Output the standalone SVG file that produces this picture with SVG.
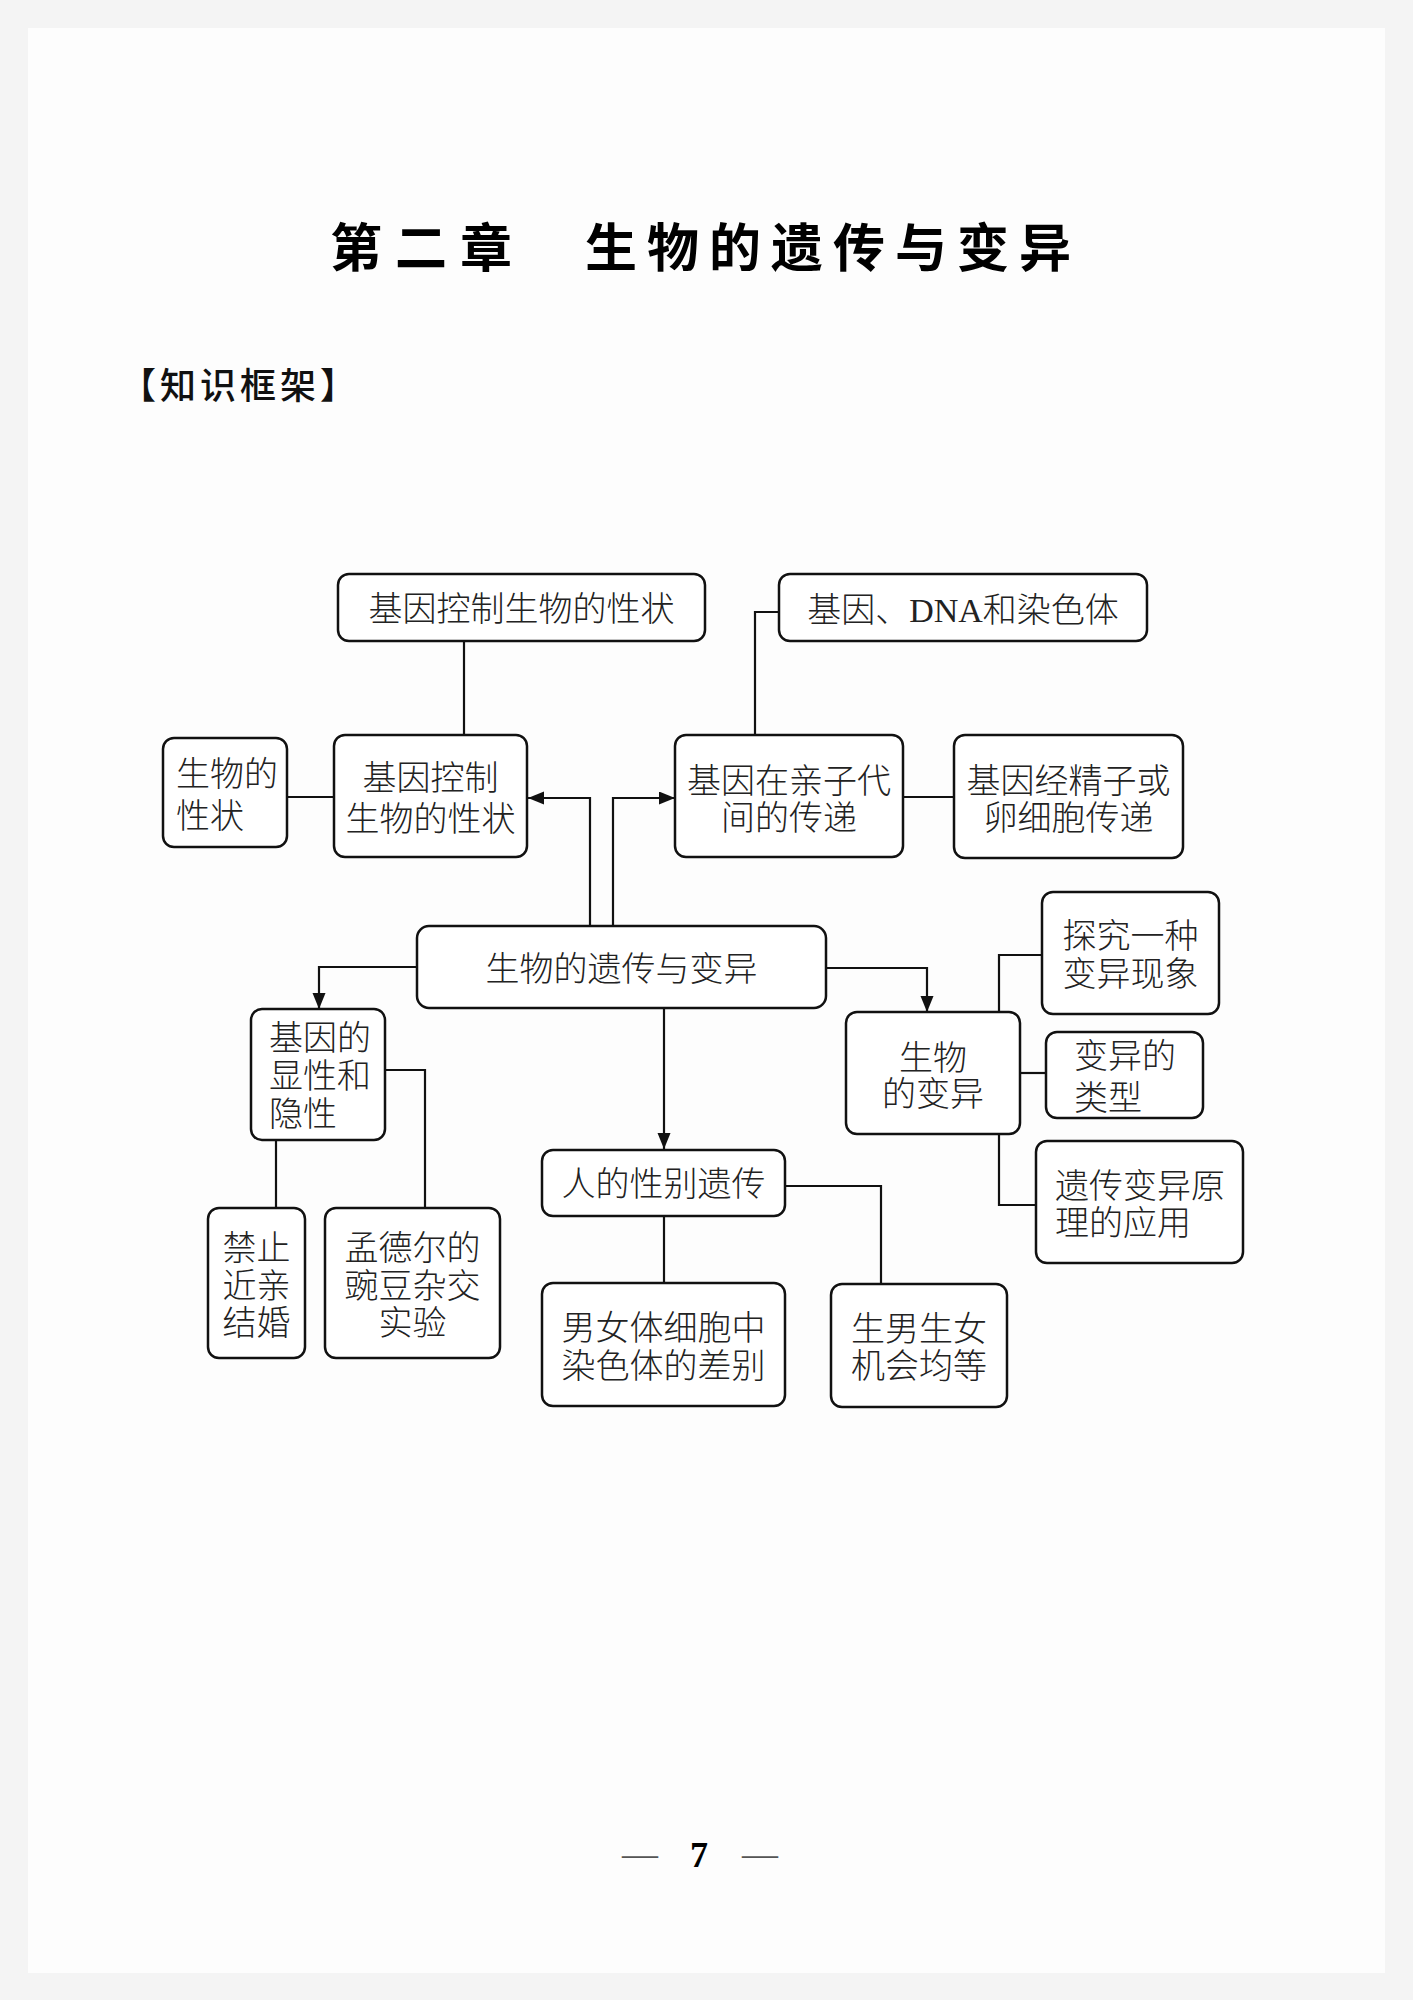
<svg xmlns="http://www.w3.org/2000/svg" width="1413" height="2000" viewBox="0 0 1413 2000">
<style>
.box{fill:#fff;stroke:#111;stroke-width:2.5}
.t{font-family:"Liberation Serif","Noto Sans CJK SC",serif;font-size:34px;font-weight:300;fill:#222}
.c{text-anchor:middle}
.ln{fill:none;stroke:#111;stroke-width:2.2}
.title{font-family:"Noto Sans CJK SC",sans-serif;font-weight:bold;font-size:52px;fill:#000}
</style>
<defs>
<marker id="arr" markerUnits="userSpaceOnUse" markerWidth="18" markerHeight="14" refX="16" refY="6.5" orient="auto">
<path d="M0,0 L16,6.5 L0,13 z" fill="#111"/>
</marker>
</defs>
<rect x="0" y="0" width="1413" height="2000" fill="#f4f4f4"/>
<rect x="28" y="28" width="1357" height="1945" fill="#fdfdfd"/>

<g id="title">
<text class="title" x="330" y="267" letter-spacing="13">第二章</text>
<text class="title" x="585" y="267" letter-spacing="10">生物的遗传与变异</text>
</g>
<g id="section">
<text x="120" y="399" font-family="Noto Sans CJK SC, sans-serif" font-size="36" font-weight="500" letter-spacing="4" fill="#111">【知识框架】</text>
</g>

<g id="connectors">
<line class="ln" x1="464" y1="641" x2="464" y2="735"/>
<line class="ln" x1="287" y1="797" x2="334" y2="797"/>
<path class="ln" d="M590,926 V798 H528" marker-end="url(#arr)"/>
<path class="ln" d="M613,926 V798 H675" marker-end="url(#arr)"/>
<path class="ln" d="M755,735 V612 H779"/>
<line class="ln" x1="903" y1="797" x2="954" y2="797"/>
<path class="ln" d="M417,967 H319 V1009" marker-end="url(#arr)"/>
<path class="ln" d="M826,968 H927 V1012" marker-end="url(#arr)"/>
<path class="ln" d="M664,1008 V1149" marker-end="url(#arr)"/>
<line class="ln" x1="276" y1="1140" x2="276" y2="1208"/>
<path class="ln" d="M385,1070 H425 V1208"/>
<path class="ln" d="M999,1012 V955 H1042"/>
<line class="ln" x1="1020" y1="1073" x2="1046" y2="1073"/>
<path class="ln" d="M999,1134 V1205 H1036"/>
<line class="ln" x1="664" y1="1216" x2="664" y2="1283"/>
<path class="ln" d="M785,1186 H881 V1284"/>
</g>

<g id="nodeA">
<rect class="box" x="338" y="574" width="367" height="67" rx="11"/>
<text class="t c" x="521.5" y="621">基因控制生物的性状</text>
</g>
<g id="nodeB">
<rect class="box" x="779" y="574" width="368" height="67" rx="11"/>
<text class="t c" x="963" y="622">基因、DNA和染色体</text>
</g>
<g id="nodeC">
<rect class="box" x="163" y="738" width="124" height="109" rx="11"/>
<text class="t" x="176" y="786">生物的</text>
<text class="t" x="176" y="828">性状</text>
</g>
<g id="nodeD">
<rect class="box" x="334" y="735" width="193" height="122" rx="11"/>
<text class="t c" x="430.5" y="790">基因控制</text>
<text class="t c" x="430.5" y="831">生物的性状</text>
</g>
<g id="nodeE">
<rect class="box" x="675" y="735" width="228" height="122" rx="11"/>
<text class="t c" x="789" y="793">基因在亲子代</text>
<text class="t c" x="789" y="830">间的传递</text>
</g>
<g id="nodeF">
<rect class="box" x="954" y="735" width="229" height="123" rx="11"/>
<text class="t c" x="1068.5" y="793">基因经精子或</text>
<text class="t c" x="1068.5" y="830">卵细胞传递</text>
</g>
<g id="nodeG">
<rect class="box" x="417" y="926" width="409" height="82" rx="12"/>
<text class="t c" x="621.5" y="981">生物的遗传与变异</text>
</g>
<g id="nodeH">
<rect class="box" x="251" y="1009" width="134" height="131" rx="11"/>
<text class="t" x="269" y="1050">基因的</text>
<text class="t" x="269" y="1088">显性和</text>
<text class="t" x="269" y="1126">隐性</text>
</g>
<g id="nodeI">
<rect class="box" x="1042" y="892" width="177" height="122" rx="11"/>
<text class="t c" x="1130.5" y="948">探究一种</text>
<text class="t c" x="1130.5" y="986">变异现象</text>
</g>
<g id="nodeJ">
<rect class="box" x="846" y="1012" width="174" height="122" rx="11"/>
<text class="t c" x="933" y="1070">生物</text>
<text class="t c" x="933" y="1106">的变异</text>
</g>
<g id="nodeK">
<rect class="box" x="1046" y="1032" width="157" height="86" rx="11"/>
<text class="t" x="1074" y="1068">变异的</text>
<text class="t" x="1074" y="1110">类型</text>
</g>
<g id="nodeL">
<rect class="box" x="1036" y="1141" width="207" height="122" rx="11"/>
<text class="t" x="1055" y="1198">遗传变异原</text>
<text class="t" x="1055" y="1235">理的应用</text>
</g>
<g id="nodeM">
<rect class="box" x="542" y="1150" width="243" height="66" rx="11"/>
<text class="t c" x="663.5" y="1196">人的性别遗传</text>
</g>
<g id="nodeN">
<rect class="box" x="208" y="1208" width="97" height="150" rx="11"/>
<text class="t c" x="256.5" y="1260">禁止</text>
<text class="t c" x="256.5" y="1298">近亲</text>
<text class="t c" x="256.5" y="1335">结婚</text>
</g>
<g id="nodeO">
<rect class="box" x="325" y="1208" width="175" height="150" rx="11"/>
<text class="t c" x="412.5" y="1260">孟德尔的</text>
<text class="t c" x="412.5" y="1298">豌豆杂交</text>
<text class="t c" x="412.5" y="1335">实验</text>
</g>
<g id="nodeP">
<rect class="box" x="542" y="1283" width="243" height="123" rx="11"/>
<text class="t c" x="663.5" y="1340">男女体细胞中</text>
<text class="t c" x="663.5" y="1378">染色体的差别</text>
</g>
<g id="nodeQ">
<rect class="box" x="831" y="1284" width="176" height="123" rx="11"/>
<text class="t c" x="919" y="1341">生男生女</text>
<text class="t c" x="919" y="1378">机会均等</text>
</g>

<g id="pagenum" font-family="Liberation Serif, serif" font-size="36">
<text x="640" y="1866" text-anchor="middle" fill="#555">—</text>
<text x="699" y="1867" text-anchor="middle" font-weight="bold" fill="#000">7</text>
<text x="760" y="1866" text-anchor="middle" fill="#555">—</text>
</g>
</svg>
